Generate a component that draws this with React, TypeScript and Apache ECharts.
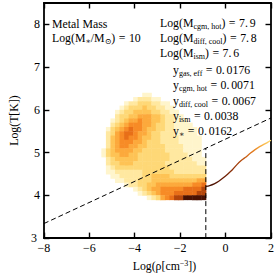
import React, { useEffect, useRef } from "react";
import * as echarts from "echarts";

// ---- axes ----
const X_MIN = -8;
const X_MAX = 2;
const Y_MIN = 3;
const Y_MAX = 8.5;
const X_TICKS = [-8, -6, -4, -2, 0, 2];
const Y_TICKS = [3, 4, 5, 6, 7, 8];

// ---- density map (levels 0-9) ----
const GRID_X0 = -5.37; // centre of first column
const GRID_DX = 0.2;
const GRID_Y0 = 6.35; // centre of first (top) row
const GRID_DY = 0.1;
const DENSITY_ROWS = [
  "00000000011000000000000",
  "00000001222110000000000",
  "00000122333221100000000",
  "00001233343322110000000",
  "00012334444332211000000",
  "00023344555443221100000",
  "00123455655443221110000",
  "00234566655433221111000",
  "01345676654433221111100",
  "02356776554332221111100",
  "02456766544332222111110",
  "02456665543332222111110",
  "02456655443333222211110",
  "13455554433333222211110",
  "13445544333333322221110",
  "02344444333333322222111",
  "02334443333333222222211",
  "01233333333333322222222",
  "01122222233333332222222",
  "00112222233444433333333",
  "00011222333444444444455",
  "00000122334455555555667",
  "00000001234556666677778",
  "00000000123456667777788",
  "00000000001235678899999",
];
const LEVEL_COLORS = [
  "",
  "#fff5cc",
  "#ffe8a0",
  "#fed877",
  "#fec355",
  "#fca93c",
  "#f78b26",
  "#e86f18",
  "#b4460b",
  "#4a1203",
];

// ---- lines ----
const DIAG_X = [-8, 2];
const DIAG_Y = [3.34, 5.81];
const CUT_X = [-0.87, -0.87];
const CUT_Y = [3, 5.1];
const CURVE_X = [-0.87, -0.7, -0.5, -0.3, -0.1, 0.1, 0.3, 0.5, 0.7, 0.9, 1.1, 1.3, 1.5, 1.7, 1.85, 2.0];
const CURVE_Y = [4.21, 4.23, 4.27, 4.33, 4.41, 4.5, 4.6, 4.72, 4.82, 4.9, 4.99, 5.07, 5.14, 5.2, 5.24, 5.29];

// ---- annotations ----
const MASS_LABELS = ["cgm, hot", "diff, cool", "ism"];
const MASS_VALUES = ["7.9", "7.8", "7.6"];
const YIELD_LABELS = ["gas, eff", "cgm, hot", "diff, cool", "ism", "\u2217"];
const YIELD_VALUES = ["0.0176", "0.0071", "0.0067", "0.0038", "0.0162"];

const FONT = "'Liberation Serif', 'DejaVu Serif', serif";

const fmtTick = (v: number) =>
  Number.isInteger(v) ? (v < 0 ? "\u2212" + Math.abs(v) : String(v)) : "";

const fmtYTick = (v: number) => {
  const s = fmtTick(v);
  if (!s) return "";
  return v === Y_MIN ? `{m|${s}}` : `{n|${s}}`;
};

const numRich = (v: string) => {
  const [a, b] = v.split(".");
  return b === undefined ? `{t|${a}}` : `{t|${a}.}{d|${b}}`;
};

const RICH = {
  t: { fontFamily: FONT, fontSize: 11.8, fill: "#000", lineHeight: 14 },
  s: { fontFamily: FONT, fontSize: 8, fill: "#000", lineHeight: 8, padding: [7, 0, 0, 0] },
  d: { fontFamily: FONT, fontSize: 11.8, fill: "#000", lineHeight: 14, padding: [0, 0, 0, 1.8] },
  e: { fontFamily: FONT, fontSize: 11.8, fill: "#000", lineHeight: 14, padding: [0, 3.5, 0, 3.5] },
};

export default function App() {
  const ref = useRef<HTMLDivElement>(null);

  useEffect(() => {
    if (!ref.current) return;
    const chart = echarts.init(ref.current, undefined, { renderer: "svg" });

    const heat: number[][] = [];
    DENSITY_ROWS.forEach((row, j) => {
      for (let i = 0; i < row.length; i++) {
        const lv = Number(row.charAt(i));
        if (lv > 0) heat.push([GRID_X0 + i * GRID_DX, GRID_Y0 - j * GRID_DY, lv]);
      }
    });

    const axisLine = { show: true, onZero: false, lineStyle: { color: "#000", width: 1.8 } };
    const axisTick = { show: true, inside: true, length: 5.5, lineStyle: { color: "#000", width: 1.4 } };

    const mkText = (x: number, y: number, text: string) => ({
      type: "text",
      x,
      y,
      z: 100,
      style: { text, rich: RICH, verticalAlign: "middle", align: "left" },
    });

    const texts: any[] = [
      mkText(52, 24.3, "{t|Metal Mass}"),
      mkText(52, 38, `{t|Log(M}{s|\u2217}{t|/M}{s|\u2299}{t|)}{e|=}${numRich("10")}`),
    ];
    MASS_LABELS.forEach((lab, k) => {
      texts.push(mkText(160, 23.3 + k * 14.7, `{t|Log(M}{s|${lab}}{t|)}{e|=}${numRich(MASS_VALUES[k])}`));
    });
    YIELD_LABELS.forEach((lab, k) => {
      texts.push(mkText(173, 70.3 + k * 15.1, `{t|y}{s|${lab}}{e|=}${numRich(YIELD_VALUES[k])}`));
    });

    chart.setOption({
      animation: false,
      grid: { left: 28, right: 5, top: 3, bottom: 33, containLabel: false },
      xAxis: [
        {
          type: "value",
          min: X_MIN,
          max: X_MAX,
          interval: 2,
          position: "bottom",
          axisLine,
          axisTick,
          splitLine: { show: false },
          axisLabel: {
            formatter: fmtTick,
            color: "#000",
            fontFamily: FONT,
            fontSize: 12,
            lineHeight: 10,
            margin: 5,
            customValues: X_TICKS,
          },
          name: "{a|Log(\u03c1[cm}{s|\u22123}{a|])}",
          nameLocation: "middle",
          nameGap: 16,
          nameTextStyle: {
            padding: [0, 0, 0, 14],
            rich: {
              a: { fontFamily: FONT, fontSize: 11.8, color: "#000" },
              s: { fontFamily: FONT, fontSize: 8, color: "#000", padding: [0, 0, 6, 0] },
            },
          },
        },
        {
          type: "value",
          min: X_MIN,
          max: X_MAX,
          interval: 2,
          position: "top",
          axisLine,
          axisTick,
          splitLine: { show: false },
          axisLabel: { show: false },
        },
      ],
      yAxis: [
        {
          type: "value",
          min: Y_MIN,
          max: Y_MAX,
          interval: 1,
          position: "left",
          axisLine,
          axisTick: { ...axisTick, customValues: Y_TICKS },
          splitLine: { show: false },
          axisLabel: {
            formatter: fmtYTick,
            color: "#000",
            fontFamily: FONT,
            fontSize: 12,
            lineHeight: 8,
            margin: 4,
            customValues: Y_TICKS,
            rich: {
              n: { fontFamily: FONT, fontSize: 12, color: "#000", lineHeight: 8 },
              m: { fontFamily: FONT, fontSize: 12, color: "#000", lineHeight: 8, padding: [0, 3, 0, 0] },
            },
          },
          name: "Log(T[K])",
          nameLocation: "middle",
          nameGap: 16,
          nameTextStyle: { fontFamily: FONT, fontSize: 11.8, color: "#000" },
        },
        {
          type: "value",
          min: Y_MIN,
          max: Y_MAX,
          interval: 1,
          position: "right",
          axisLine,
          axisTick: { ...axisTick, customValues: Y_TICKS },
          splitLine: { show: false },
          axisLabel: { show: false },
        },
      ],
      graphic: texts,
      series: [
        {
          type: "custom",
          silent: true,
          xAxisIndex: 0,
          yAxisIndex: 0,
          data: heat,
          encode: { x: 0, y: 1 },
          renderItem: (params: any, api: any) => {
            const x = api.value(0);
            const y = api.value(1);
            const lv = api.value(2);
            const p0 = api.coord([x - GRID_DX / 2, y + GRID_DY / 2]);
            const p1 = api.coord([x + GRID_DX / 2, y - GRID_DY / 2]);
            return {
              type: "rect",
              shape: { x: p0[0], y: p0[1], width: p1[0] - p0[0] + 0.5, height: p1[1] - p0[1] + 0.5 },
              style: { fill: LEVEL_COLORS[lv] },
            };
          },
          z: 1,
        },
        {
          type: "line",
          silent: true,
          data: DIAG_X.map((x, i) => [x, DIAG_Y[i]]),
          symbol: "none",
          lineStyle: { color: "#000", width: 1, type: [5, 3] },
          z: 3,
        },
        {
          type: "line",
          silent: true,
          data: CUT_X.map((x, i) => [x, CUT_Y[i]]),
          symbol: "none",
          lineStyle: { color: "#000", width: 1, type: [5, 3] },
          z: 3,
        },
        {
          type: "line",
          silent: true,
          data: CURVE_X.map((x, i) => [x, CURVE_Y[i]]),
          symbol: "none",
          smooth: 0.3,
          lineStyle: {
            width: 1.3,
            color: new echarts.graphic.LinearGradient(0, 0, 1, 0, [
              { offset: 0, color: "#3a0d02" },
              { offset: 0.3, color: "#6e1f05" },
              { offset: 0.5, color: "#a8400a" },
              { offset: 0.7, color: "#df741b" },
              { offset: 0.85, color: "#f7ac3e" },
              { offset: 1, color: "#fed86a" },
            ]),
          },
          z: 3,
        },
      ],
    });

    return () => chart.dispose();
  }, []);

  return <div ref={ref} style={{ width: 277, height: 277, position: "absolute", left: 0, top: 0 }} />;
}
